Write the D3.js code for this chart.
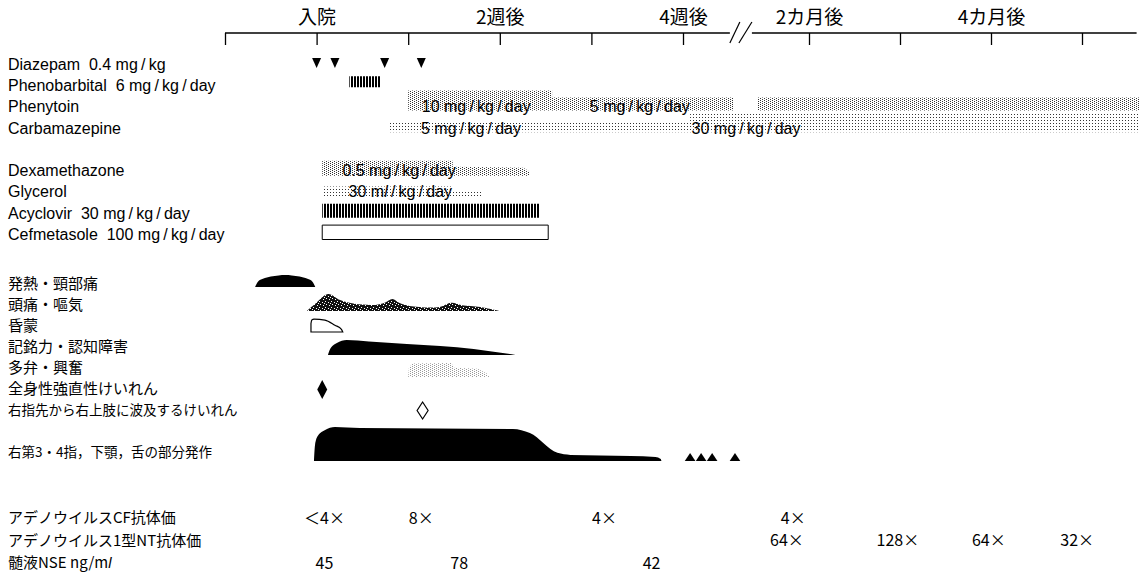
<!DOCTYPE html>
<html><head><meta charset="utf-8">
<script src="https://cdn.jsdelivr.net/npm/d3@7"></script>
<style>
body{margin:0;background:#fff;}
svg{display:block;}
.lat{font-family:"Liberation Sans",Arial,Helvetica,sans-serif;}
.jp{font-family:"Noto Sans CJK JP","Noto Sans",sans-serif;}
</style></head><body>
<svg id="c" width="1145" height="580"></svg>
<script>
// ---------- DATA ----------
// time axis (days from admission)
const axisTicks = [-7, 0, 7, 14, 21, 28, 60, 90, 120, 150];
const axisLabelDays = [0, 14, 28, 60, 120];
const axisLabels = ["入院", "2週後", "4週後", "2カ月後", "4カ月後"];
const axisBreak = [39.9, 45.5];
const axisEnd = 168;

// drug rows
const drugLabels = ["Diazepam  0.4 mg/kg", "Phenobarbital  6 mg/kg/day", "Phenytoin", "Carbamazepine", "",
  "Dexamethazone", "Glycerol", "Acyclovir  30 mg/kg/day", "Cefmetasole  100 mg/kg/day"];
const diazepamDays = [0, 1.4, 5.2, 8];
// [day, relative amount]
const phenobarbital = [[2.5, 0.55], [4.9, 0.55]];
const phenytoinA = [[7, 1], [18, 1], [18, 0.65], [40.7, 0.65]];
const phenytoinB = [[47, 0.65], [169, 0.65]];
const carbamazepine = [[5.6, 0.5], [29.8, 0.5], [29.8, 1], [169, 1]];
const dexamethazone = [[0.43, 0.75], [10.4, 0.75], [10.4, 0.45], [15.8, 0.4], [16.3, 0.2]];
const glycerol = [[0.43, 0.55], [10.4, 0.55], [10.4, 0.35], [12.7, 0.3]];
const acyclovir = [[0.43, 0.7], [17, 0.7]];
const cefmetasole = [[0.43, 0.72], [17.7, 0.72]];
const doseRows = [2, 2, 3, 3, 5, 6];
const doseDays = [12.2, 24.7, 11.8, 44, 6.3, 6.4];
const doseTexts = ["10 mg/kg/day", "5 mg/kg/day", "5 mg/kg/day", "30 mg/kg/day", "0.5 mg/kg/day", "30 ml/kg/day"];

// symptom rows
const symptomLabels = ["発熱・頸部痛", "頭痛・嘔気", "昏蒙", "記銘力・認知障害", "多弁・興奮",
  "全身性強直性けいれん", "右指先から右上肢に波及するけいれん", "", "右第3・4指，下顎，舌の部分発作"];
const fever = [[-4.7, 0], [-4.5, 0.15], [-4.1, 0.24], [-3.5, 0.31], [-2.9, 0.34], [-2.4, 0.35], [-1.9, 0.34], [-1.3, 0.31], [-0.7, 0.24], [-0.3, 0.15], [-0.1, 0]];
const headache = [[-0.74, 0], [-0.1, 0.21], [0.87, 0.5], [1.8, 0.32], [2.9, 0.21], [4.5, 0.18], [5.2, 0.24], [5.8, 0.35], [6.3, 0.24], [7.1, 0.15], [9.4, 0.12], [10.3, 0.24], [11.1, 0.17], [12.5, 0.12], [14, 0]];
const clouding = [[-0.43, 0], [-0.43, 0.25], [-0.35, 0.36], [-0.2, 0.38], [0.64, 0.35], [1.4, 0.2], [1.9, 0.08], [2.0, 0]];
const memory = [[0.87, 0], [1.0, 0.15], [1.55, 0.35], [2.3, 0.44], [4, 0.4], [6.9, 0.32], [12, 0.18], [15.2, 0]];
const talkative = [[7, 0], [7.05, 0.26], [7.3, 0.4], [10.3, 0.41], [10.5, 0.27], [12.3, 0.24], [13, 0.1], [13.2, 0]];
const gtcDays = [0.43];
const spreadDays = [8.1];
const partial = [[-0.2, 0], [-0.12, 0.47], [0.1, 0.74], [0.65, 0.91], [1.4, 1.0], [3.3, 0.97], [15, 0.94], [16.3, 0.82], [18.4, 0.24], [19.4, 0.18], [24, 0.15], [25.9, 0.12], [26.3, 0.06], [26.35, 0]];
const partialLateDays = [29.8, 32.6, 35.4, 41.2];

// laboratory rows
const labLabels = ["アデノウイルスCF抗体価", "アデノウイルス1型NT抗体価", "髄液NSE ng/ml"];
const cfDays = [0.6, 8, 22, 56];
const cfValues = ["＜4×", "8×", "4×", "4×"];
const ntDays = [54.4, 89.3, 119.3, 148.4];
const ntValues = ["64×", "128×", "64×", "32×"];
const nseDays = [0.6, 10.9, 25.6];
const nseValues = [45, 78, 42];

// ---------- CHART ----------
const svg = d3.select("#c");
const x = d3.scaleLinear().domain([-7, 28, 60, 150]).range([225, 683, 809, 1082]);
const yDrug = d3.scalePoint().domain(d3.range(drugLabels.length)).range([64, 234]);
const ySym = d3.scalePoint().domain(d3.range(symptomLabels.length)).range([284, 452]);
const yLab = d3.scalePoint().domain(d3.range(labLabels.length)).range([518, 563]);
const hDrug = d3.scaleLinear().domain([0, 1]).range([0, 20]);
const hSym = d3.scaleLinear().domain([0, 1]).range([0, 34]);
const spaced = s => s.replace(/\//g, "\u2009/\u2009");

// patterns
const defs = svg.append("defs");
function pat(id, w, h, bg, dots, col) {
  const p = defs.append("pattern").attr("id", id).attr("patternUnits", "userSpaceOnUse").attr("width", w).attr("height", h);
  if (bg) p.append("rect").attr("width", w).attr("height", h).attr("fill", bg);
  dots.forEach(d => p.append("rect").attr("x", d[0]).attr("y", d[1]).attr("width", d[2] || 1).attr("height", d[3] || 1).attr("fill", col));
}
pat("stipple", 4, 2, "#fff", [[0, 0], [2, 1]], "#333");
pat("sparse", 3, 3, "#fff", [[0, 0]], "#333");
pat("stripes", 3, 1, "#fff", [[0, 0, 2, 1]], "#000");
pat("dense", 6, 6, "#111", [[1, 1], [4, 2], [2, 4], [5, 5], [0, 3]], "#fff");
pat("light", 4, 2, "#fff", [[0, 0], [2, 1]], "#999");

// axis
const axG = svg.append("g").attr("transform", "translate(0,33)");
axG.call(d3.axisBottom(x).tickValues(axisTicks).tickSize(12).tickFormat(""))
  .call(g => g.select(".domain").remove())
  .call(g => g.selectAll(".tick line").attr("stroke", "#000").attr("stroke-width", 1.3));
axG.append("line").attr("x1", x(-7)).attr("x2", x(axisBreak[0])).attr("stroke", "#000").attr("stroke-width", 1.3);
axG.append("line").attr("x1", x(axisBreak[1])).attr("x2", x(axisEnd)).attr("stroke", "#000").attr("stroke-width", 1.3);
const b0 = x(axisBreak[0]), b1 = x(axisBreak[1]);
[[b0, b0 + 10], [b1 - 13, b1]].forEach(s => {
  axG.append("line").attr("x1", s[0]).attr("y1", 10).attr("x2", s[1]).attr("y2", -11).attr("stroke", "#000").attr("stroke-width", 1.2);
});
const lab = svg.append("g").attr("transform", "translate(0,33)")
  .call(d3.axisTop(x).tickValues(axisLabelDays).tickSize(0).tickPadding(9).tickFormat((d, i) => axisLabels[i]));
lab.select(".domain").remove();
lab.selectAll("text").attr("class", "jp").attr("font-size", 19).attr("fill", "#000").attr("font-family", null);

// left labels
svg.append("g").selectAll("text").data(drugLabels).join("text")
  .attr("class", "lat").attr("x", 8).attr("y", (d, i) => yDrug(i)).attr("dy", "0.36em")
  .attr("font-size", 16).style("white-space", "pre").text(d => spaced(d));
svg.append("g").selectAll("text").data(symptomLabels).join("text")
  .attr("class", "jp").attr("x", 8).attr("y", (d, i) => ySym(i)).attr("dy", "0.36em")
  .attr("font-size", (d, i) => i < 6 ? 15 : 13.5).text(d => d);
const labT = svg.append("g").selectAll("text").data(labLabels).join("text")
  .attr("class", "jp").attr("x", 8).attr("y", (d, i) => yLab(i)).attr("dy", "0.36em").attr("font-size", 15);
labT.each(function (d) {
  const t = d3.select(this);
  if (d.endsWith("ml")) {
    t.append("tspan").text(d.slice(0, -1));
    t.append("tspan").attr("font-style", "italic").attr("class", "lat").text("l");
  } else t.text(d);
});

// drug marks
const drugArea = (base) => d3.area().x(d => x(d[0])).y0(base).y1(d => base - hDrug(d[1]));
svg.append("g").selectAll("path").data(diazepamDays).join("path")
  .attr("d", d => `M${x(d) - 4.5},${yDrug(0) - 6}h9l-4.5,10z`).attr("fill", "#000");
svg.append("path").attr("d", drugArea(yDrug(1) + 2)(phenobarbital)).attr("fill", "url(#stripes)");
svg.append("path").attr("d", drugArea(yDrug(2) + 4)(phenytoinA)).attr("fill", "url(#stipple)");
svg.append("path").attr("d", drugArea(yDrug(2) + 4)(phenytoinB)).attr("fill", "url(#stipple)");
svg.append("path").attr("d", drugArea(yDrug(3) + 4.5)(carbamazepine)).attr("fill", "url(#sparse)");
svg.append("path").attr("d", drugArea(yDrug(5) + 5.5)(dexamethazone)).attr("fill", "url(#stipple)");
svg.append("path").attr("d", drugArea(yDrug(6) + 6)(glycerol)).attr("fill", "url(#sparse)");
svg.append("path").attr("d", drugArea(yDrug(7) + 5)(acyclovir)).attr("fill", "url(#stripes)");
svg.append("path").attr("d", drugArea(yDrug(8) + 5.5)(cefmetasole)).attr("fill", "#fff").attr("stroke", "#000").attr("stroke-width", 1);

const doseT = svg.append("g").selectAll("text").data(doseTexts).join("text")
  .attr("class", "lat").attr("font-size", 16).attr("text-anchor", "middle")
  .attr("x", (d, i) => x(doseDays[i])).attr("y", (d, i) => yDrug(doseRows[i])).attr("dy", "0.36em");
doseT.each(function (d) {
  const t = d3.select(this);
  if (d.includes("ml")) {
    const k = d.indexOf("ml");
    t.append("tspan").text(d.slice(0, k + 1));
    t.append("tspan").attr("font-style", "italic").text("l");
    t.append("tspan").text(spaced(d.slice(k + 2)));
  } else t.text(spaced(d));
});

// symptom marks
const symArea = (base, curve) => d3.area().x(d => x(d[0])).y0(base).y1(d => base - hSym(d[1])).curve(curve);
svg.append("path").attr("d", symArea(ySym(0) + 3, d3.curveMonotoneX)(fever)).attr("fill", "#000");
svg.append("path").attr("d", symArea(ySym(1) + 6, d3.curveCatmullRom)(headache)).attr("fill", "url(#dense)");
svg.append("path").attr("d", symArea(ySym(2) + 6, d3.curveMonotoneX)(clouding)).attr("fill", "#fff").attr("stroke", "#000").attr("stroke-width", 1.2);
svg.append("path").attr("d", symArea(ySym(3) + 8, d3.curveMonotoneX)(memory)).attr("fill", "#000");
svg.append("path").attr("d", symArea(ySym(4) + 9, d3.curveLinear)(talkative)).attr("fill", "url(#light)");
svg.append("g").selectAll("path").data(gtcDays).join("path")
  .attr("d", d => `M${x(d)},${ySym(5) - 9}l5,9.5l-5,9.5l-5,-9.5z`).attr("fill", "#000");
svg.append("g").selectAll("path").data(spreadDays).join("path")
  .attr("d", d => `M${x(d)},${ySym(6) - 8}l5.5,8.5l-5.5,8.5l-5.5,-8.5z`).attr("fill", "#fff").attr("stroke", "#000").attr("stroke-width", 1.2);
svg.append("path").attr("d", symArea(ySym(8) + 9, d3.curveMonotoneX)(partial)).attr("fill", "#000");
svg.append("g").selectAll("path").data(partialLateDays).join("path")
  .attr("d", d => `M${x(d) - 5.3},${ySym(8) + 9}l5.3,-8l5.3,8z`).attr("fill", "#000");

// lab values
function labRow(days, vals, row) {
  svg.append("g").selectAll("text").data(vals).join("text")
    .attr("class", "jp").attr("font-size", 16).attr("text-anchor", "middle")
    .attr("x", (d, i) => x(days[i])).attr("y", yLab(row)).attr("dy", "0.36em").text(d => d);
}
labRow(cfDays, cfValues, 0);
labRow(ntDays, ntValues, 1);
labRow(nseDays, nseValues, 2);
</script></body></html>
